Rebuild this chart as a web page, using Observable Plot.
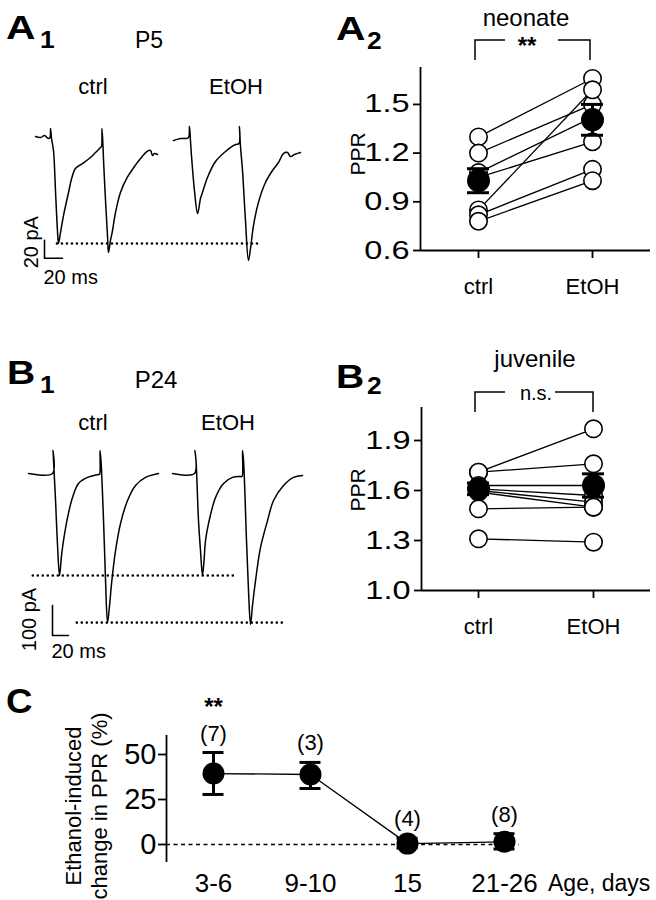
<!DOCTYPE html>
<html><head><meta charset="utf-8">
<script src="https://cdn.jsdelivr.net/npm/d3@7"></script>
<script src="https://cdn.jsdelivr.net/npm/@observablehq/plot@0.6"></script>
<style>
body{margin:0;background:#fff;}
#fig{position:relative;width:656px;height:900px;background:#fff;color:#000;overflow:hidden;}
#fig svg{position:absolute;max-width:none;}
</style></head><body><div id="fig"></div>
<script>
// ---------------- DATA ----------------
// A1: P5 recordings, [time (ms), current (pA)]
const a1Ctrl = [[0,2.2],[5.6,1.1],[10,3.3],[14.4,0],[16.1,1.1],[16.7,11.1],[17.8,0],[20,-13.3],[22.2,-57.8],[24.4,-102.2],[25.6,-116.7],[27.8,-104.4],[31.1,-85.6],[36.7,-60],[40,-45],[44.4,-33.3],[52.2,-27.8],[61.1,-21.1],[66.7,-15.6],[72.2,-10],[73.3,-8.9],[73.9,11.1],[75,-8.9],[75.6,-24.4],[77.8,-68.9],[80,-107.8],[81.1,-126.7],[83.3,-113.3],[85.2,-104.4],[88.9,-82.2],[94.4,-60],[101.9,-43.3],[109.2,-32.2],[116.7,-22.2],[124.1,-14.4],[127.8,-13.3],[130,-18.9],[132.2,-16.7],[135.6,-17.8]];
const a1Etoh = [[0,-2.2],[4,-1],[7.8,0],[13.3,0],[16.7,1.1],[17.8,13.3],[18.9,-2.2],[20,-18.9],[23.3,-57.8],[26.7,-83.3],[28.3,-77],[30,-66.7],[32.2,-60],[37.8,-43.3],[46.7,-25.6],[57.8,-14.4],[68.9,-6.7],[72.8,-5.6],[73.3,13.3],[74.4,-7.8],[76.7,-35.6],[80,-91.1],[83.3,-135.6],[85.6,-122.2],[88.9,-96.7],[94.4,-71.1],[102.2,-48.9],[110,-35.6],[116.7,-26.7],[122.2,-16.7],[126.7,-15.6],[130,-20],[134.4,-17.8],[141.1,-15.6]];
// B1: P24 recordings, [time (ms), current (pA)]
const b1Ctrl = [[0,0],[30,0],[30.6,77],[31.3,43],[33.8,-90],[36.3,-240],[38.8,-340],[41.3,-273],[43.8,-223],[48.8,-147],[55,-80],[62.5,-33],[73.8,-13],[87.5,-3],[88.8,-3],[89.4,77],[90.6,43],[93.8,-157],[96.3,-357],[98.8,-497],[101.3,-440],[103.8,-367],[108.8,-257],[115,-167],[123.8,-90],[133.8,-40],[146.3,-13],[162.5,0]];
const b1Etoh = [[0,0],[27.5,0],[28.1,77],[29.4,43],[32.5,-157],[35,-257],[37.5,-340],[39.4,-290],[41.3,-223],[45,-167],[53.8,-80],[63.8,-33],[75,-13],[85,-10],[86.9,-10],[87.5,77],[88.8,43],[92.5,-223],[95,-390],[97.5,-503],[100,-440],[103.8,-357],[110,-247],[118.8,-157],[126.3,-90],[138.8,-40],[151.3,-13],[162.5,-7]];

// A2 / B2: paired-pulse ratio
const groups = ["ctrl", "EtOH"];
const neoCtrl = [1.30, 1.20, 1.08, 1.05, 0.85, 0.82, 0.78];
const neoEtoh = [1.66, 1.50, 1.42, 1.27, 1.59, 1.10, 1.03];
const neoMean = [1.03, 1.405];
const neoErr  = [0.074, 0.095];
const juvCtrl = [1.71, 1.71, 1.63, 1.61, 1.60, 1.59, 1.49, 1.31];
const juvEtoh = [1.97, 1.76, 1.63, 1.57, 1.53, 1.50, 1.50, 1.29];
const juvMean = [1.61, 1.63];
const juvErr  = [0.035, 0.07];

// C: ethanol-induced change in PPR by age
const ages = ["3-6", "9-10", "15", "21-26"];
const changeMean = [39.4, 38.9, 0.5, 1.5];
const changeLo   = [27.8, 31.1, -2.0, -2.5];
const changeHi   = [51.1, 45.6, 3.5, 6.0];
const nCells     = [7, 3, 4, 8];
const sigMarks   = ["**", "", "", ""];

// ---------------- LAYOUT ----------------
const FONT = '"Liberation Sans", Arial, Helvetica, sans-serif';
const fig = document.getElementById("fig");
function place(el, left, top) { el.style.left = left + "px"; el.style.top = top + "px"; fig.appendChild(el); return el; }
function stretchTicks(svg, sx) {
  svg.querySelectorAll('g[aria-label="y-axis tick label"] text').forEach(el => {
    const x = el.getAttribute("x");
    if (x != null) el.setAttribute("x", +x / sx);
    el.setAttribute("transform", (el.getAttribute("transform") || "") + ` scale(${sx},1)`);
  });
}
const baseStyle = {fontFamily: FONT, color: "black", background: "transparent", overflow: "visible"};

// ---------- trace panels ----------
function tracePanel({ctrl, etoh, sweepOffset, guides, bar, barLabels, w, h, x, y}) {
  const rows = [
    ...ctrl.map(([t, I]) => ({cond: "ctrl", t, I})),
    ...etoh.map(([t, I]) => ({cond: "EtOH", t: t + sweepOffset, I}))
  ];
  const barPts = [[bar.t, bar.I], [bar.t, bar.I - bar.dI], [bar.t + bar.dt, bar.I - bar.dI]];
  return Plot.plot({
    width: w, height: h, style: baseStyle,
    x: {domain: x.domain, range: x.range, axis: null},
    y: {domain: y.domain, range: y.range, axis: null},
    marks: [
      Plot.ruleY(guides, {y: "level", x1: "t1", x2: "t2", stroke: "black", strokeWidth: 2.6, strokeDasharray: "0,5", strokeLinecap: "round"}),
      Plot.line(rows, {x: "t", y: "I", z: "cond", stroke: "black", strokeWidth: 1.5, strokeLinejoin: "round", curve: "catmull-rom"}),
      Plot.line(barPts, {x: d => d[0], y: d => d[1], stroke: "black", strokeWidth: 1.6}),
      Plot.text([barLabels.v], {x: () => bar.t, y: () => bar.I - bar.dI / 2, text: d => d, rotate: -90, dx: barLabels.vdx, dy: barLabels.vdy, fontSize: 20}),
      Plot.text([barLabels.h], {x: () => bar.t, y: () => bar.I - bar.dI, text: d => d, textAnchor: "start", dx: -1, dy: barLabels.hdy, fontSize: 20})
    ]
  });
}
const a1Peak = d3.min(a1Ctrl.filter(d => d[0] < 50), d => d[1]);
const a1 = tracePanel({
  ctrl: a1Ctrl, etoh: a1Etoh, sweepOffset: 153.3,
  guides: [{level: a1Peak, t1: 24.4, t2: 250}],
  bar: {t: 10, I: -113, dt: 20, dI: 20},
  barLabels: {v: "20 pA", h: "20 ms", vdx: -13, vdy: -7, hdy: 19},
  w: 330, h: 200,
  x: {domain: [0, 300], range: [35, 305]},
  y: {domain: [-160, 40], range: [182, 2]}
});
place(a1, 0, 100);

const b1Peak1 = d3.min(b1Ctrl.filter(d => d[0] < 60), d => d[1]);
const b1Peak2 = d3.min(b1Ctrl, d => d[1]);
const b1 = tracePanel({
  ctrl: b1Ctrl, etoh: b1Etoh, sweepOffset: 180,
  guides: [{level: b1Peak1, t1: 6, t2: 262}, {level: b1Peak2, t1: 61, t2: 318}],
  bar: {t: 30, I: -440, dt: 20, dI: 100},
  barLabels: {v: "100 pA", h: "20 ms", vdx: -23, vdy: -1, hdy: 16},
  w: 330, h: 230,
  x: {domain: [0, 340], range: [28, 300]},
  y: {domain: [-600, 120], range: [223, 7]}
});
place(b1, 0, 430);

// ---------- PPR panels ----------
function pprPanel({ctrl, etoh, mean, err, yDomain, yTicks, w, h, mL, mR, mT, mB, xPad, cap}) {
  const pairs = ctrl.map((c, i) => ({c, e: etoh[i]}));
  const pts = [...ctrl.map(v => ({i: 0, v})), ...etoh.map(v => ({i: 1, v}))];
  const summary = groups.map((g, i) => ({i, m: mean[i], lo: mean[i] - err[i], hi: mean[i] + err[i]}));
  const svg = Plot.plot({
    width: w, height: h, marginLeft: mL, marginRight: mR, marginTop: mT, marginBottom: mB,
    style: baseStyle,
    x: {domain: [-xPad, 1 + xPad]},
    y: {domain: yDomain},
    marks: [
      Plot.ruleX([-xPad], {stroke: "black", strokeWidth: 1.8}),
      Plot.ruleY([yDomain[0]], {stroke: "black", strokeWidth: 1.8}),
      Plot.axisY({ticks: yTicks, tickFormat: d3.format(".1f"), tickSize: 7, tickPadding: 4, fontSize: 25, strokeWidth: 1.8, label: null}),
      Plot.axisX({ticks: [0, 1], tickFormat: i => groups[i], tickSize: 8, tickPadding: 20, fontSize: 22, strokeWidth: 1.8, label: null}),
      Plot.link(pairs, {x1: () => 0, x2: () => 1, y1: "c", y2: "e", stroke: "black", strokeWidth: 1.3}),
      Plot.dot(pts, {x: "i", y: "v", r: 8.7, fill: "white", stroke: "black", strokeWidth: 1.6}),
      Plot.ruleX(summary, {x: "i", y1: "lo", y2: "hi", stroke: "black", strokeWidth: 3}),
      Plot.ruleY(summary, {y: "hi", x1: d => d.i - cap, x2: d => d.i + cap, stroke: "black", strokeWidth: 3}),
      Plot.ruleY(summary, {y: "lo", x1: d => d.i - cap, x2: d => d.i + cap, stroke: "black", strokeWidth: 3}),
      Plot.dot(summary, {x: "i", y: "m", r: 11.5, fill: "black"})
    ]
  });
  stretchTicks(svg, 1.3);
  return svg;
}
const a2 = pprPanel({ctrl: neoCtrl, etoh: neoEtoh, mean: neoMean, err: neoErr,
  yDomain: [0.6, 1.7275], yTicks: [0.6, 0.9, 1.2, 1.5],
  w: 326, h: 320, mL: 90, mR: 6, mT: 67, mB: 70, xPad: 58 / 114, cap: 11 / 114});
place(a2, 330, 0);
const b2 = pprPanel({ctrl: juvCtrl, etoh: juvEtoh, mean: juvMean, err: juvErr,
  yDomain: [1.0, 2.098], yTicks: [1.0, 1.3, 1.6, 1.9],
  w: 326, h: 330, mL: 91, mR: 6, mT: 87, mB: 60, xPad: 57 / 115, cap: 11 / 115});
place(b2, 330, 320);

// ---------- C ----------
const cData = ages.map((a, i) => ({i, m: changeMean[i], lo: changeLo[i], hi: changeHi[i], n: nCells[i], sig: sigMarks[i]}));
const cXmin = -47 / 97, cCap = 10.5 / 97;
const cPlot = Plot.plot({
  width: 656, height: 240, marginLeft: 166, marginRight: 103.5, marginTop: 75, marginBottom: 38,
  style: baseStyle,
  x: {domain: [cXmin, 3.5]},
  y: {domain: [-10, 60.56]},
  marks: [
    Plot.ruleX([cXmin], {stroke: "black", strokeWidth: 1.8}),
    Plot.axisY({ticks: [0, 25, 50], tickSize: 8, tickPadding: 2, fontSize: 29, strokeWidth: 1.8, label: null}),
    Plot.axisX({ticks: [0, 1, 2, 3], tickFormat: i => ages[i], tickSize: 0, tickPadding: 11, fontSize: 26, label: null}),
    Plot.ruleY([0], {x1: () => cXmin, x2: () => 3.155, stroke: "black", strokeWidth: 1.3, strokeDasharray: "4,3.5"}),
    Plot.line(cData, {x: "i", y: "m", stroke: "black", strokeWidth: 1.3}),
    Plot.ruleX(cData, {x: "i", y1: "lo", y2: "hi", stroke: "black", strokeWidth: 3}),
    Plot.ruleY(cData, {y: "hi", x1: d => d.i - cCap, x2: d => d.i + cCap, stroke: "black", strokeWidth: 3}),
    Plot.ruleY(cData, {y: "lo", x1: d => d.i - cCap, x2: d => d.i + cCap, stroke: "black", strokeWidth: 3}),
    Plot.dot(cData, {x: "i", y: "m", r: 11, fill: "black"}),
    Plot.text(cData, {x: "i", y: "hi", text: d => `(${d.n})`, dy: -19, fontSize: 22}),
    Plot.text(cData, {x: "i", y: "hi", text: "sig", dy: -45, fontSize: 24, fontWeight: "bold"})
  ]
});
place(cPlot, 0, 660);

// ---------- annotations ----------
const ov = d3.select(fig).append("svg")
  .attr("width", 656).attr("height", 900)
  .style("left", "0px").style("top", "0px").style("pointer-events", "none")
  .attr("font-family", FONT);
function label(x, y, s, o = {}) {
  ov.append("text").text(s)
    .attr("font-size", o.size || 22)
    .attr("font-weight", o.bold ? "bold" : null)
    .attr("text-anchor", o.anchor || "start")
    .attr("fill", "black")
    .attr("transform", `translate(${x},${y})` + (o.rotate ? ` rotate(${o.rotate})` : "") + (o.sx ? ` scale(${o.sx},1)` : ""));
}
function bracket(d) { ov.append("path").attr("d", d).attr("fill", "none").attr("stroke", "black").attr("stroke-width", 1.5); }

// panel letters
label(6, 39, "A", {size: 34, bold: true, sx: 1.2});
label(40, 48, "1", {size: 24, bold: true, sx: 1.1});
label(336, 40, "A", {size: 34, bold: true, sx: 1.2});
label(367, 49, "2", {size: 23, bold: true, sx: 1.15});
label(7, 384, "B", {size: 34, bold: true, sx: 1.15});
label(40, 393, "1", {size: 24, bold: true, sx: 1.1});
label(336, 388, "B", {size: 34, bold: true, sx: 1.15});
label(367, 394, "2", {size: 23, bold: true, sx: 1.15});
label(6, 713, "C", {size: 35, bold: true, sx: 1.05});

// titles
label(149, 48, "P5", {size: 23, anchor: "middle"});
label(93, 94, "ctrl", {size: 22, anchor: "middle"});
label(236, 94, "EtOH", {size: 22, anchor: "middle"});
label(156, 388, "P24", {size: 24, anchor: "middle"});
label(93, 430, "ctrl", {size: 22, anchor: "middle"});
label(228, 430, "EtOH", {size: 22, anchor: "middle"});
label(526, 26, "neonate", {size: 24, anchor: "middle"});
label(535, 367, "juvenile", {size: 24, anchor: "middle"});

// significance brackets
bracket("M475,60V40H505M558,40H590V60");
label(527, 54, "**", {size: 24, bold: true, anchor: "middle"});
bracket("M475,412V392H505M555,392H593V412");
label(536, 400, "n.s.", {size: 20, anchor: "middle"});

// axis titles
label(365, 154, "PPR", {size: 21, anchor: "middle", rotate: -90});
label(365, 490, "PPR", {size: 21, anchor: "middle", rotate: -90});
label(81, 806, "Ethanol-induced", {size: 22, anchor: "middle", rotate: -90});
label(107, 806, "change in PPR (%)", {size: 22, anchor: "middle", rotate: -90});
label(548, 891, "Age, days", {size: 23});
</script></body></html>
